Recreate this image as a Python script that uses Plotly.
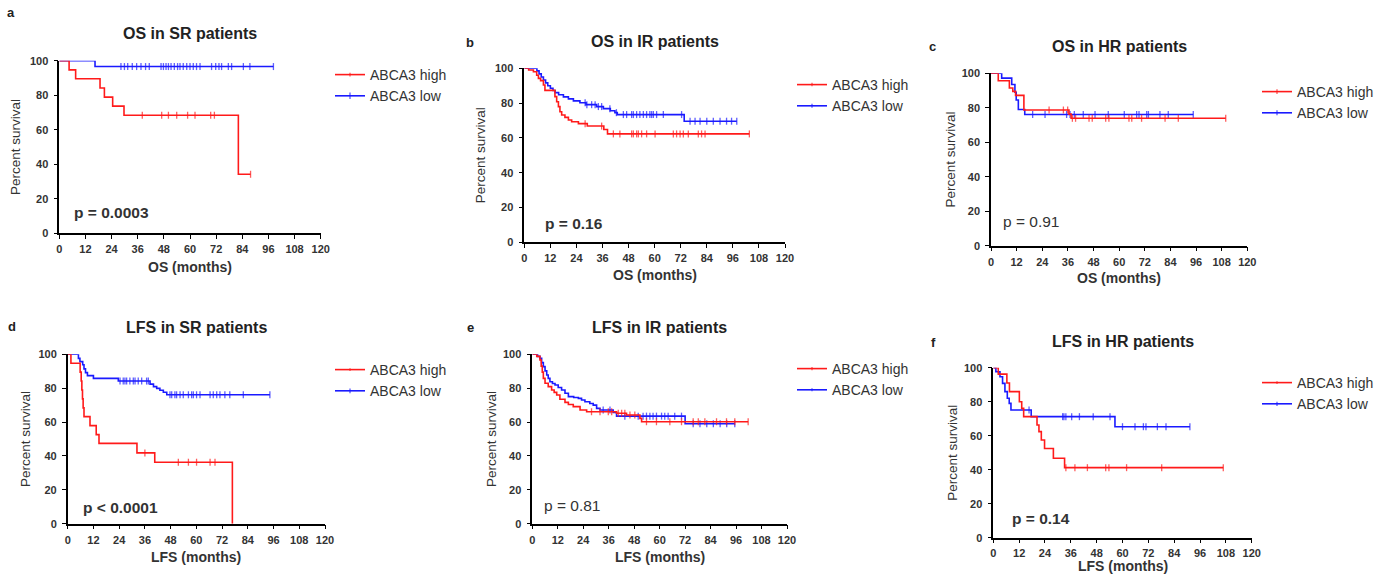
import plotly.graph_objects as go

# ---------------- DATA ----------------
# Panel a: OS in SR patients
a_high_t = [0, 4.5, 7.5, 18.7, 20.7, 24.5, 29.7, 82.2]
a_high_s = [100, 94.7, 89.5, 84.2, 78.9, 73.7, 68.4, 34.2]
a_high_c = [38.1, 47.0, 50.1, 53.9, 58.9, 62.3, 69.5, 71.2, 87.8]
a_low_t = [0, 16.4]
a_low_s = [100, 96.6]
a_low_c = [28.3, 29.9, 31.4, 33.5, 35.5, 37.5, 39.6, 41.3, 46.7, 47.8, 49.0, 50.1,
           51.3, 52.8, 54.3, 55.4, 56.9, 58.5, 60.0, 61.5, 63.0, 64.6, 69.9, 71.8,
           73.3, 74.5, 77.6, 79.1, 84.5, 87.5, 98.3]

# Panel b: OS in IR patients
b_high_t = [0, 2, 4.2, 5.7, 6.5, 7.5, 8.8, 9.5, 14.1, 14.9, 15.7, 16.4, 17.2, 18.7,
            20.3, 21.8, 24.9, 29.0, 36.6, 38.3]
b_high_s = [100, 99, 98, 96, 94.2, 92.9, 90.4, 87.3, 83.7, 80.8, 78, 75, 73.2, 71.8,
            70.3, 69.3, 68.2, 66.8, 64.8, 62.3]
b_high_c = [28.0, 35.6, 41.0, 44.0, 49.4, 50.2, 51.7, 52.5, 54.0, 56.3, 60.2, 68.6,
            70.1, 71.7, 73.2, 75.5, 80.1, 81.6, 83.2, 103.6]
b_low_t = [0, 5.8, 6.8, 7.8, 8.8, 9.8, 10.8, 12, 13.2, 14.2, 15.8, 18, 20.3, 22.6,
           25.6, 28.4, 33.3, 36.4, 39.6, 41.7, 42.8, 73.6]
b_low_s = [100, 98.5, 96.8, 95, 93.3, 91.6, 90, 88.5, 87.2, 86, 84.8, 83.6, 82.4,
           81.3, 80.2, 79.1, 78, 76.8, 75.6, 74.5, 73.4, 69.6]
b_low_c = [28.0, 28.8, 31.0, 32.6, 34.1, 35.6, 39.4, 42.4, 45.6, 47.1, 49.4, 50.2,
           51.7, 53.2, 54.8, 56.3, 57.8, 58.6, 59.4, 60.9, 64.0, 72.4, 76.3, 78.6,
           80.9, 84.0, 87.0, 90.1, 93.1, 95.4, 97.8]

# Panel c: OS in HR patients
c_high_t = [0, 3.4, 8.6, 10.2, 11.5, 15.4, 36.5, 37.5]
c_high_s = [100, 95.7, 91.5, 89.5, 87.2, 78.7, 76.3, 73.9]
c_high_c = [27.2, 33.9, 35.9, 38.1, 39.6, 45.9, 47.4, 53.7, 55.2, 64.6, 65.9, 70.5,
            81.5, 87.7, 109.9]
c_low_t = [0, 5, 9.7, 11.2, 11.8, 12.8, 15.8]
c_low_s = [100, 97.2, 93.5, 89, 84.5, 79, 76.1]
c_low_c = [19.5, 25.3, 35.4, 37.0, 39.0, 43.2, 48.7, 54.9, 62.4, 68.2, 69.3, 72.9,
           73.7, 79.1, 83.0, 94.7]

# Panel d: LFS in SR patients
d_high_t = [0, 1.5, 5.8, 6.3, 6.6, 6.9, 7.2, 7.6, 10.4, 13.3, 14.6, 32.3, 40.6, 76.8]
d_high_s = [100, 94.7, 89.5, 84.2, 78.9, 73.7, 68.4, 63.2, 57.9, 52.6, 47.4, 41.8,
            36.3, 0]
d_high_c = [36.0, 51.6, 56.3, 60.1, 66.4, 68.7]
d_low_t = [0, 5, 5.7, 7.0, 7.6, 8.3, 9.2, 12, 23.6, 38.4, 40.0, 41.5, 43.0, 44.6,
           46.2]
d_low_s = [100, 97.6, 95.7, 93.8, 91.4, 89.2, 87.4, 85.8, 84.2, 82.4, 80.9, 79.9,
           78.8, 77.6, 76.1]
d_low_c = [24.4, 25.9, 26.7, 27.5, 29.0, 30.6, 31.4, 32.9, 34.5, 36.8, 37.6, 47.7,
           48.5, 50.0, 50.8, 52.4, 53.9, 56.3, 57.8, 58.6, 60.1, 61.7, 66.4, 67.9,
           69.5, 71.0, 73.3, 75.6, 81.9, 94.3]

# Panel e: LFS in IR patients
e_high_t = [0, 2.1, 3.6, 4.2, 4.7, 5.2, 6.0, 7.5, 9.1, 10.3, 11.5, 13.0, 15.4, 17.0,
            19.3, 22.5, 25.6, 39.7, 44.4, 50.7, 51.5]
e_high_s = [100, 98.8, 96.6, 93, 89.5, 85.8, 82.9, 80.9, 78.9, 77.5, 76, 73.5, 71.6,
            70.4, 69.1, 67.1, 66.1, 65.2, 64.2, 62.2, 60.2]
e_high_c = [27.9, 31.9, 35.8, 37.4, 40.5, 42.1, 43.6, 46.0, 48.3, 53.8, 58.5, 64.8,
            70.3, 75.8, 78.2, 81.3, 86.8, 91.5, 95.4, 101.7]
e_low_t = [0, 2.5, 3.6, 4.4, 5.2, 6.0, 6.8, 7.5, 8.3, 9.5, 10.7, 12.2, 13.8, 15.4,
           17.0, 19.5, 21.7, 23.2, 24.8, 27.1, 28.7, 30.3, 31.9, 38.1, 39.7, 72.0]
e_low_s = [100, 98.8, 97.6, 95.1, 92.7, 90.2, 87.8, 85.8, 83.8, 82.8, 81.9, 80.4,
           78.9, 77, 75, 74.5, 74, 73, 72, 71, 70, 68.1, 67.1, 65.6, 63.5, 59.0]
e_low_c = [33.4, 36.6, 43.6, 49.9, 52.2, 53.8, 55.4, 56.9, 58.5, 60.9, 62.4, 64.0,
           67.1, 70.3, 75.8, 79.0, 82.2, 85.3, 88.5, 91.6, 95.4]

# Panel f: LFS in HR patients
f_high_t = [0, 2.3, 6.3, 7.5, 12.1, 13.2, 14.1, 20.3, 21.2, 22.3, 23.8, 27.9, 33.1]
f_high_s = [100, 96.2, 91.0, 85.9, 80.0, 76.1, 71.2, 66.3, 62.4, 57.5, 52.5, 46.7,
            41.2]
f_high_c = [33.7, 37.9, 43.7, 52.2, 53.7, 61.9, 78.2, 106.8]
f_low_t = [0, 1.2, 3.1, 4.3, 5.4, 6.5, 7.4, 8.2, 17.6, 56.5]
f_low_s = [100, 97.6, 94.7, 90.8, 85.9, 82, 79, 75.1, 71.2, 65.3]
f_low_c = [16.6, 32.2, 32.8, 33.7, 36.4, 40.0, 46.4, 54.2, 60.0, 65.8, 69.7, 70.9,
           76.2, 80.2, 91.3]

panel_letters = ["a", "b", "c", "d", "e", "f"]
panel_titles = ["OS in SR patients", "OS in IR patients", "OS in HR patients",
                "LFS in SR patients", "LFS in IR patients", "LFS in HR patients"]
x_titles = ["OS (months)", "OS (months)", "OS (months)",
            "LFS (months)", "LFS (months)", "LFS (months)"]
p_texts = ["p = 0.0003", "p = 0.16", "p = 0.91", "p < 0.0001", "p = 0.81", "p = 0.14"]
p_bold = [True, True, False, True, False, True]
series_names = ["ABCA3 high", "ABCA3 low"]
x_ticks = [0, 12, 24, 36, 48, 60, 72, 84, 96, 108, 120]
y_ticks = [0, 20, 40, 60, 80, 100]

curves = [
    ((a_high_t, a_high_s, a_high_c), (a_low_t, a_low_s, a_low_c)),
    ((b_high_t, b_high_s, b_high_c), (b_low_t, b_low_s, b_low_c)),
    ((c_high_t, c_high_s, c_high_c), (c_low_t, c_low_s, c_low_c)),
    ((d_high_t, d_high_s, d_high_c), (d_low_t, d_low_s, d_low_c)),
    ((e_high_t, e_high_s, e_high_c), (e_low_t, e_low_s, e_low_c)),
    ((f_high_t, f_high_s, f_high_c), (f_low_t, f_low_s, f_low_c)),
]

# ---------------- LAYOUT (pixel geometry) ----------------
W, H = 1391, 581
# plot boxes: left, right, top, bottom (px)
boxes = [
    (59.3, 320.7, 60.7, 233.3),
    (524.3, 785.0, 68.3, 242.3),
    (991.0, 1247.3, 73.3, 245.7),
    (67.7, 325.0, 354.3, 523.7),
    (532.3, 787.0, 354.3, 523.7),
    (993.3, 1251.7, 367.7, 537.7),
]
title_y = [33, 41, 46, 327, 327, 341]
letter_pos = [(11, 12), (470, 42), (932, 47), (12, 326), (470, 327), (933, 342)]
ytitle_x = [15, 480, 950, 25, 491, 953]
xtitle_dy = [34, 33, 32, 33, 33, 28]
xlabel_standoff = [1, 1, 1, 1, 1, 0]
p_pos = [(72, 212), (543, 223), (1001, 221), (81, 507), (542, 505), (1010, 518)]
legend_pos = [(330, 59), (792, 69), (1257, 76), (330, 354), (792, 353), (1257, 367)]

RED = "#ff1a1a"
BLUE = "#1a1aff"
FONT = "Liberation Sans, Arial, sans-serif"
TXT = "#333333"


def px_x(v):
    return v / W


def px_y(v):
    return 1 - v / H


def build(t, s, cens):
    pts = [(ti, si, 0) for ti, si in zip(t, s)]
    for c in cens:
        lvl = s[0]
        for ti, si in zip(t, s):
            if ti <= c:
                lvl = si
        pts.append((c, lvl, 1))
    pts.sort(key=lambda p: (p[0], -p[1]))
    xs = [p[0] for p in pts]
    ys = [p[1] for p in pts]
    sz = [5 if p[2] else 0 for p in pts]
    return xs, ys, sz


fig = go.Figure()
annotations = []
layout = {}

for i in range(6):
    n = "" if i == 0 else str(i + 1)
    xa, ya = "x" + n, "y" + n
    lg = "legend" + n
    high, low = curves[i]
    # draw low first so high (red) sits on top, rank high first in legend
    for (data, name, color, rank) in [(low, series_names[1], BLUE, 2),
                                      (high, series_names[0], RED, 1)]:
        xs, ys, sz = build(*data)
        fig.add_trace(go.Scatter(
            x=xs, y=ys, mode="lines+markers", name=name,
            line=dict(color=color, width=1.6, shape="hv"),
            marker=dict(symbol="line-ns", size=sz, color=color,
                        line=dict(color=color, width=1.3)),
            xaxis=xa, yaxis=ya, legend=lg, legendrank=rank,
            cliponaxis=False, hoverinfo="skip"))

    l, r, t_, b = boxes[i]
    axis_common = dict(showline=True, linecolor="black", linewidth=1.5,
                       ticks="outside", ticklen=4, tickwidth=1.3, tickcolor="black",
                       showgrid=False, zeroline=False, fixedrange=True,
                       tickfont=dict(family=FONT, size=11, color=TXT, weight="bold"))
    layout["xaxis" + n] = dict(axis_common, domain=[px_x(l), px_x(r)], range=[0, 120],
                               tickvals=x_ticks, anchor=ya,
                               ticklabelstandoff=xlabel_standoff[i])
    layout["yaxis" + n] = dict(axis_common, domain=[px_y(b), px_y(t_)], range=[0, 100],
                               tickvals=y_ticks, anchor=xa, ticklabelstandoff=3)
    lx, ly = legend_pos[i]
    layout[lg] = dict(x=px_x(lx), y=px_y(ly), xanchor="left", yanchor="top",
                      xref="paper", yref="paper", bgcolor="rgba(0,0,0,0)",
                      font=dict(family=FONT, size=14, color=TXT),
                      itemwidth=30, tracegroupgap=0)

    cx = (l + r) / 2
    annotations.append(dict(text="<b>%s</b>" % panel_titles[i], x=px_x(cx), y=px_y(title_y[i]),
                            xref="paper", yref="paper", showarrow=False,
                            xanchor="center", yanchor="middle",
                            font=dict(family=FONT, size=16, color="#222222")))
    annotations.append(dict(text="<b>%s</b>" % panel_letters[i], x=px_x(letter_pos[i][0]),
                            y=px_y(letter_pos[i][1]), xref="paper", yref="paper",
                            showarrow=False, xanchor="center", yanchor="middle",
                            font=dict(family=FONT, size=13, color="#222222")))
    annotations.append(dict(text="Percent survival", x=px_x(ytitle_x[i]),
                            y=px_y((t_ + b) / 2), xref="paper", yref="paper",
                            showarrow=False, textangle=-90, xanchor="center",
                            yanchor="middle",
                            font=dict(family=FONT, size=13.5, color=TXT)))
    annotations.append(dict(text="<b>%s</b>" % x_titles[i], x=px_x(cx),
                            y=px_y(b + xtitle_dy[i]), xref="paper", yref="paper",
                            showarrow=False, xanchor="center", yanchor="middle",
                            font=dict(family=FONT, size=14, color=TXT)))
    ptxt = "<b>%s</b>" % p_texts[i] if p_bold[i] else p_texts[i]
    annotations.append(dict(text=ptxt, x=px_x(p_pos[i][0]), y=px_y(p_pos[i][1]),
                            xref="paper", yref="paper", showarrow=False,
                            xanchor="left", yanchor="middle",
                            font=dict(family=FONT, size=15.5, color=TXT)))

fig.update_layout(**layout)
fig.update_layout(width=W, height=H,
                  margin=dict(l=0, r=0, t=0, b=0, pad=0, autoexpand=False),
                  paper_bgcolor="white", plot_bgcolor="white",
                  annotations=annotations, showlegend=True)

fig.write_html("out.html", config={"displayModeBar": False},
               post_script="document.body.style.margin='0';"
                           "document.body.style.overflow='hidden';")
